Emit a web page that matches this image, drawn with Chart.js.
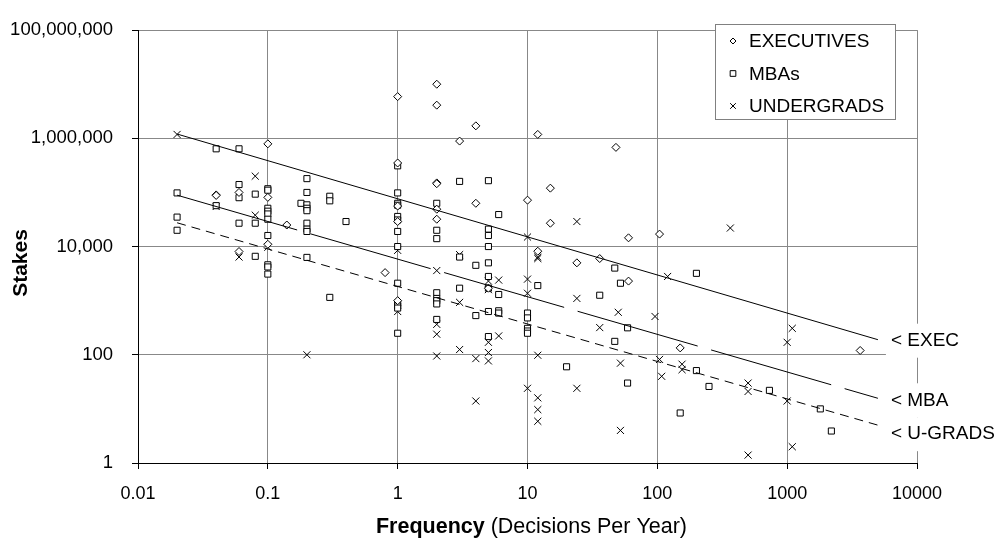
<!DOCTYPE html>
<html>
<head>
<meta charset="utf-8">
<script src="https://cdn.jsdelivr.net/npm/chart.js@4.4.0/dist/chart.umd.min.js"></script>
<style>
  html, body { margin: 0; padding: 0; background: #fff; }
</style>
</head>
<body>
<canvas id="myChart" width="997" height="542"></canvas>
<script>
// frequency (decisions per year) and stakes
var execFreq   = [0.04, 0.04, 0.06, 0.06, 0.1, 0.1, 0.1, 0.14, 0.8, 1, 1, 1, 1, 1, 2, 2, 2, 2, 2, 2, 3, 4, 4, 5, 10, 12, 12, 15, 15, 24, 36, 48, 60, 60, 104, 150, 3650];
var execStakes = [9e4, 8.8e4, 1e5, 8.1e3, 7.9e5, 8.1e4, 1.1e4, 2.5e4, 3.3e3, 5.9e6, 3.5e5, 5.6e4, 2.9e4, 1000, 1e7, 4.1e6, 1.5e5, 1.45e5, 4.9e4, 3.2e4, 8.9e5, 1.7e6, 6.3e4, 1.7e3, 7.2e4, 1.18e6, 8.2e3, 1.2e5, 2.7e4, 5e3, 6e3, 6.8e5, 1.45e4, 2.3e3, 1.7e4, 134, 120];

var mbaFreq   = [0.02, 0.02, 0.02, 0.04, 0.04, 0.06, 0.06, 0.06, 0.06, 0.08, 0.08, 0.08,
                 0.1, 0.1, 0.1, 0.1, 0.1, 0.1, 0.1, 0.1, 0.1, 0.1, 0.18,
                 0.2, 0.2, 0.2, 0.2, 0.2, 0.2, 0.2, 0.2, 0.2, 0.3, 0.3, 0.3, 0.4,
                 1, 1, 1, 1, 1, 1, 1, 1, 1, 1, 1, 1, 1,
                 2, 2, 2, 2, 2, 2, 2, 2, 3, 3, 3, 4, 4,
                 5, 5, 5, 5, 5, 5, 5, 5, 5, 6, 6, 6, 6,
                 10, 10, 10, 10, 10, 12, 20, 36, 47, 47, 52, 59, 59, 150, 200, 200, 250, 730, 1800, 2190];
var mbaStakes = [9.8e4, 3.5e4, 2e4, 6.4e5, 5.7e4, 6.4e5, 1.4e5, 8e4, 2.7e4, 9.3e4, 2.7e4, 6.6e3,
                 1.17e5, 1.1e5, 5.1e4, 4.5e4, 4e4, 3.2e4, 1.6e4, 4.6e3, 4.2e3, 3.1e3, 6.3e4,
                 1.8e5, 1e5, 5.9e4, 5.1e4, 4.6e4, 2.7e4, 2.1e4, 1.9e4, 6.3e3, 8.5e4, 7e4, 1.15e3, 2.9e4,
                 3.1e5, 9.8e4, 6.3e4, 5.8e4, 3.6e4, 3.1e4, 1.9e4, 1e4, 2.1e3, 900, 800, 730, 250,
                 6.3e4, 2e4, 1.4e4, 1.4e3, 1.1e3, 1e3, 870, 450, 1.6e5, 6.4e3, 1.7e3, 4.5e3, 530,
                 1.65e5, 2.1e4, 1.6e4, 1e4, 5e3, 2.8e3, 1.7e3, 630, 217, 3.9e4, 1.3e3, 650, 590,
                 590, 480, 308, 275, 250, 1.9e3, 60, 1.26e3, 4e3, 177, 2.1e3, 315, 30, 8.4, 3.2e3, 51, 26, 22, 10, 3.9];

var ugFreq   = [0.02, 0.04, 0.06, 0.08, 0.08, 0.1, 0.2, 1, 1, 2, 2, 2, 2, 3, 3, 3, 4, 4,
                5, 5, 5, 5, 5, 6, 6, 10, 10, 10, 10, 12, 12, 12, 12, 12, 12, 24, 24, 24, 36,
                50, 52, 52, 96, 104, 108, 120, 155, 155, 365, 500, 500, 500, 1000, 1000, 1095, 1095];
var ugStakes = [1.18e6, 5.5e4, 6.4e3, 2e5, 3.8e4, 9.7e3, 100, 8.5e3, 630, 3.6e3, 365, 240, 95, 7.1e3, 930, 125, 85, 14,
                2.3e3, 1.6e3, 170, 110, 77, 2.4e3, 223, 1.5e4, 2.5e3, 1.37e3, 24, 6.4e3, 6e3, 98, 16, 9.7, 5.9, 2.9e4, 1.1e3, 24, 318,
                610, 70, 4, 510, 82, 40, 2.8e3, 67, 53, 2.2e4, 30, 21, 1.4, 170, 14, 308, 2];

// fitted lines, start and end
var trendFreq  = [0.02, 5000];
var execTrend  = [1.2e6, 190];
var mbaTrend   = [8.9e4, 15.7];
var ugTrend    = [2.75e4, 5];
var trendLabels = ['< EXEC', '< MBA', '< U-GRADS'];

var seriesNames = ['EXECUTIVES', 'MBAs', 'UNDERGRADS'];
var xTicks = [0.01, 0.1, 1, 10, 100, 1000, 10000];
var yTicks = [1, 100, 10000, 1000000, 100000000];

var FONT = "'Liberation Sans', Arial, sans-serif";

function pts(xs, ys) {
    var out = [];
    for (var i = 0; i < xs.length; i++) {
        out.push({x: xs[i], y: ys[i]});
    }
    return out;
}

function trendSet(ys, dash, label) {
    return {
        type: 'line', label: label, data: pts(trendFreq, ys),
        borderColor: '#000', borderWidth: 1, borderDash: dash,
        pointRadius: 0, fill: false, isTrend: true
    };
}

function markerSet(xs, ys, label, style, r) {
    return {
        type: 'scatter', label: label, data: pts(xs, ys),
        pointStyle: style, pointRadius: r, pointHoverRadius: r,
        borderColor: '#000', backgroundColor: '#fff', pointBorderWidth: 1, borderWidth: 1
    };
}

var legendMarks = [['rectRot', 3], ['rect', 4], ['crossRot', 4]];

var boxLegend = {
    id: 'boxLegend',
    afterDraw: function (chart) {
        var ctx = chart.ctx;
        ctx.save();
        ctx.fillStyle = '#fff';
        ctx.fillRect(716, 25, 180, 94);
        ctx.strokeStyle = '#808080';
        ctx.lineWidth = 1;
        ctx.strokeRect(715.5, 24.5, 180, 95);
        var rows = [41, 73.5, 106];
        for (var i = 0; i < seriesNames.length; i++) {
            ctx.strokeStyle = '#000';
            ctx.fillStyle = '#fff';
            Chart.helpers.drawPoint(ctx, {pointStyle: legendMarks[i][0], radius: legendMarks[i][1], borderWidth: 1, rotation: 0}, 733, rows[i]);
            ctx.fillStyle = '#000';
            ctx.font = '19px ' + FONT;
            ctx.textBaseline = 'middle';
            ctx.textAlign = 'left';
            ctx.fillText(seriesNames[i], 749, rows[i] + 1);
        }
        ctx.restore();
    }
};

var trendTags = {
    id: 'trendTags',
    afterDraw: function (chart) {
        var ctx = chart.ctx;
        var shift = [1, 2, 9];
        ctx.save();
        ctx.font = '19px ' + FONT;
        ctx.textBaseline = 'middle';
        ctx.textAlign = 'left';
        var k = 0;
        chart.data.datasets.forEach(function (ds, i) {
            if (!ds.isTrend) return;
            var meta = chart.getDatasetMeta(i);
            var end = meta.data[meta.data.length - 1];
            var tx = end.x + 13, ty = end.y + shift[k];
            var w = ctx.measureText(trendLabels[k]).width;
            ctx.fillStyle = '#fff';
            ctx.fillRect(tx - 5, ty - 17, w + 10, 34);
            ctx.fillStyle = '#000';
            ctx.fillText(trendLabels[k], tx, ty);
            k++;
        });
        ctx.restore();
    }
};

var axisTitles = {
    id: 'axisTitles',
    afterDraw: function (chart) {
        var ctx = chart.ctx;
        var area = chart.chartArea;
        ctx.save();
        ctx.fillStyle = '#000';
        ctx.textBaseline = 'middle';
        ctx.font = 'bold 21.5px ' + FONT;
        var a = 'Frequency';
        var wa = ctx.measureText(a).width;
        ctx.font = '21.5px ' + FONT;
        var b = ' (Decisions Per Year)';
        var wb = ctx.measureText(b).width;
        var cx = (area.left + area.right) / 2 + 4;
        var sx = cx - (wa + wb) / 2;
        ctx.textAlign = 'left';
        ctx.font = 'bold 21.5px ' + FONT;
        ctx.fillText(a, sx, 527);
        ctx.font = '21.5px ' + FONT;
        ctx.fillText(b, sx + wa, 527);

        ctx.translate(21, 263);
        ctx.rotate(-Math.PI / 2);
        ctx.textAlign = 'center';
        ctx.font = 'bold 21px ' + FONT;
        ctx.fillText('Stakes', 0, 0);
        ctx.restore();
    }
};

var ctx = document.getElementById('myChart');
var myChart = new Chart(ctx, {
    data: {
        datasets: [
            trendSet(execTrend, [], seriesNames[0] + ' fit'),
            trendSet(mbaTrend, [125, 14], seriesNames[1] + ' fit'),
            trendSet(ugTrend, [9, 6], seriesNames[2] + ' fit'),
            markerSet(execFreq, execStakes, seriesNames[0], 'rectRot', 4),
            markerSet(mbaFreq, mbaStakes, seriesNames[1], 'rect', 4.3),
            markerSet(ugFreq, ugStakes, seriesNames[2], 'crossRot', 5)
        ]
    },
    options: {
        responsive: false,
        animation: false,
        devicePixelRatio: 1,
        layout: {padding: {top: 18, right: 80, left: 0, bottom: 0}},
        plugins: {
            legend: {display: false},
            tooltip: {enabled: false}
        },
        scales: {
            x: {
                type: 'logarithmic',
                min: 0.01, max: 10000,
                afterBuildTicks: function (scale) {
                    scale.ticks = xTicks.map(function (v) { return {value: v}; });
                },
                afterFit: function (scale) { scale.height = 79; },
                ticks: {
                    color: '#000', padding: 14, maxRotation: 0, autoSkip: false,
                    font: {family: FONT, size: 18},
                    callback: function (v) { return String(v); }
                },
                grid: {color: '#888', lineWidth: 1, tickColor: '#000', tickLength: 6},
                border: {color: '#000', width: 1}
            },
            y: {
                type: 'logarithmic',
                min: 1, max: 100000000,
                afterBuildTicks: function (scale) {
                    scale.ticks = yTicks.map(function (v) { return {value: v}; });
                },
                afterFit: function (scale) { scale.width = 138; },
                ticks: {
                    color: '#000', padding: 19, autoSkip: false,
                    font: {family: FONT, size: 18.5},
                    callback: function (v) { return Number(v).toLocaleString('en-US'); }
                },
                grid: {color: '#888', lineWidth: 1, tickColor: '#000', tickLength: 6},
                border: {color: '#000', width: 1}
            }
        }
    },
    plugins: [trendTags, boxLegend, axisTitles]
});
</script>
</body>
</html>
